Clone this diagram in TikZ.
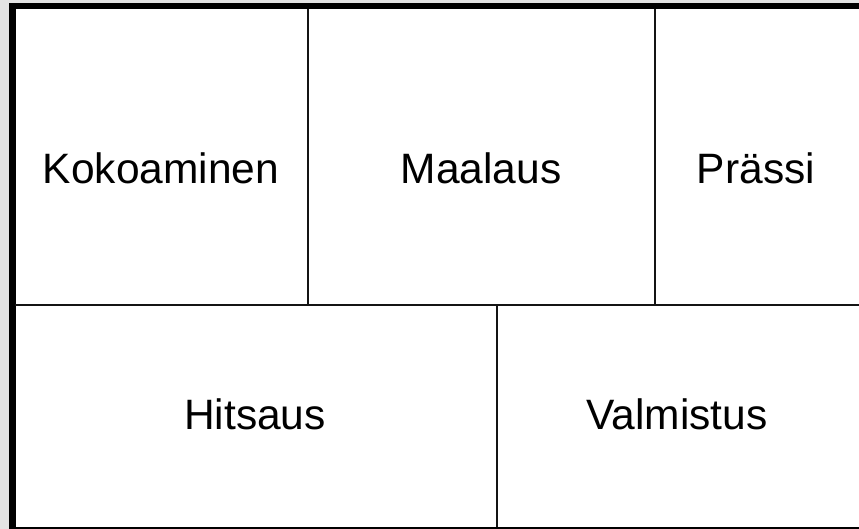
\documentclass[tikz,border=0pt]{standalone}
\usepackage{fontspec}
\setmainfont{Liberation Sans}
\definecolor{bggray}{HTML}{E3E3E3}
\definecolor{linec}{HTML}{141414}
\begin{document}
\begin{tikzpicture}[x=1pt,y=-1pt,
  lbl/.style={anchor=base,inner sep=0pt,font=\fontsize{42.5}{50}\selectfont},
  inner/.style={draw=linec,line width=2.2pt}]
\useasboundingbox (0,0) rectangle (859,529);
\fill[bggray] (0,0) rectangle (859,529);
\fill[white] (15,9) rectangle (859,527);
% outer frame
\fill[black] (9,3) rectangle (859,9.5);
\fill[black] (9,3) rectangle (15.5,529);
\fill[black] (9,526.5) rectangle (859,528.5);
% grid coordinates
\coordinate (hl) at (15,305);
\coordinate (hr) at (859,305);
\coordinate (v1t) at (308,9);
\coordinate (v1b) at (308,305);
\coordinate (v2t) at (655,9);
\coordinate (v2b) at (655,305);
\coordinate (v3t) at (497,305);
\coordinate (v3b) at (497,527);
\draw[inner] (hl) -- (hr);
\draw[inner] (v1t) -- (v1b);
\draw[inner] (v2t) -- (v2b);
\draw[inner] (v3t) -- (v3b);
% labels
\node[lbl] (kok) at (161,184) {Kokoaminen};
\node[lbl] (maa) at (481,184) {Maalaus};
\node[lbl] (pra) at (756,184) {Prässi};
\node[lbl] (hit) at (255,429) {Hitsaus};
\node[lbl] (val) at (677,429) {Valmistus};
\end{tikzpicture}
\end{document}
